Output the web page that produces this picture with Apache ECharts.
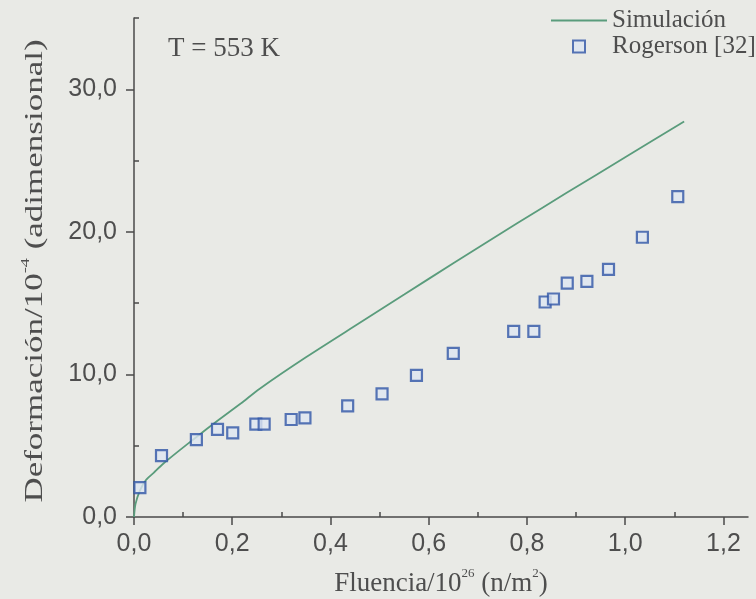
<!DOCTYPE html>
<html>
<head>
<meta charset="utf-8">
<script src="https://cdn.jsdelivr.net/npm/echarts@6/dist/echarts.min.js"></script>
<style>
  html, body { margin: 0; padding: 0; background: #e9eae6; }
  #chart { width: 756px; height: 599px; }
</style>
</head>
<body>
<div id="chart"></div>
<script>
// Experimental strain (Rogerson [32]) versus fluence
const rogersonX = [0.012, 0.056, 0.127, 0.170, 0.201, 0.248, 0.265, 0.320, 0.348, 0.435, 0.505, 0.575, 0.650, 0.773, 0.814, 0.837, 0.854, 0.882, 0.922, 0.966, 1.035, 1.107];
const rogersonY = [2.06, 4.31, 5.43, 6.14, 5.90, 6.51, 6.51, 6.84, 6.95, 7.80, 8.64, 9.94, 11.47, 13.02, 13.02, 15.08, 15.29, 16.41, 16.53, 17.37, 19.62, 22.47];

// Simulated strain curve
const simX = [0, 0.003, 0.012, 0.024, 0.04, 0.06, 0.09, 0.126, 0.17, 0.218, 0.256, 0.35, 0.459, 0.55, 0.65, 0.78, 0.88, 1.0, 1.12];
const simY = [0, 0.9, 1.85, 2.58, 3.1, 3.75, 4.6, 5.58, 6.75, 7.98, 9.0, 11.2, 13.6, 15.6, 17.8, 20.6, 22.72, 25.23, 27.74];

// Axis ticks and labels
const xMajor = [0, 0.2, 0.4, 0.6, 0.8, 1.0, 1.2];
const xMinor = [0.1, 0.3, 0.5, 0.7, 0.9, 1.1];
const yMajor = [0, 10, 20, 30];
const yMinor = [5, 15, 25, 35];

const SERIF = '"Liberation Serif", "Times New Roman", serif';
const SANS = '"Liberation Sans", Arial, sans-serif';
const AXIS_COLOR = '#4a4a4a';
const TEXT_COLOR = '#4e4e4e';

const fmt = v => v.toFixed(1).replace('.', ',');
const pairs = (xs, ys) => xs.map((x, i) => [x, ys[i]]);

const chart = echarts.init(document.getElementById('chart'));

const nameRich = (size) => ({
  a: { fontFamily: SERIF, fontSize: size, lineHeight: size + 6, fill: TEXT_COLOR, color: TEXT_COLOR },
  s: { fontFamily: SERIF, fontSize: 13, lineHeight: 13, fill: TEXT_COLOR, color: TEXT_COLOR, verticalAlign: 'top' }
});

const baseX = {
  type: 'value', min: 0, max: 1.25,
  axisLine: { show: true, onZero: false, lineStyle: { color: AXIS_COLOR, width: 1.5 } },
  splitLine: { show: false }
};
const baseY = {
  type: 'value', min: 0, max: 35,
  axisLine: { show: true, onZero: false, lineStyle: { color: AXIS_COLOR, width: 1.5 } },
  splitLine: { show: false }
};

chart.setOption({
  backgroundColor: '#e9eae6',
  animation: false,
  title: {
    text: 'T = 553 K',
    left: 163, top: 30,
    textStyle: { fontFamily: SERIF, fontSize: 27, fontWeight: 'normal', color: TEXT_COLOR }
  },
  legend: {
    orient: 'vertical',
    left: 545, top: 3,
    itemWidth: 56, itemHeight: 12, itemGap: 1,
    textStyle: { fontFamily: SERIF, fontSize: 25, color: TEXT_COLOR },
    data: [
      { name: 'Simulación', itemStyle: { opacity: 0 } },
      { name: 'Rogerson [32]', icon: 'path://M0,0L10,0L10,10L0,10Z' }
    ]
  },
  // Vertical axis title, drawn with a wide letter run
  graphic: [{
    type: 'text',
    x: 35, y: 271,
    rotation: Math.PI / 2,
    scaleX: 1.4, scaleY: 1,
    style: {
      text: '{a|Deformación/10}{s|-4}{a| (adimensional)}',
      rich: nameRich(25),
      align: 'center', verticalAlign: 'middle',
      fill: TEXT_COLOR
    }
  }],
  grid: { left: 134, right: 8, top: 18, bottom: 82, containLabel: false, outerBoundsMode: 'none' },
  xAxis: [
    Object.assign({}, baseX, {
      name: '{a|Fluencia/10}{s|26}{a| (n/m}{s|2}{a|)}',
      nameLocation: 'middle', nameGap: 50,
      nameTextStyle: { rich: nameRich(27) },
      axisTick: { show: true, length: 8, customValues: xMajor, lineStyle: { color: AXIS_COLOR, width: 1.5 } },
      axisLabel: {
        customValues: xMajor, margin: 15, formatter: fmt,
        fontFamily: SANS, fontSize: 25, color: TEXT_COLOR
      }
    }),
    Object.assign({}, baseX, {
      axisLine: { show: false },
      axisTick: { show: true, length: 5, customValues: xMinor, lineStyle: { color: AXIS_COLOR, width: 1.5 } },
      axisLabel: { show: false }
    })
  ],
  yAxis: [
    Object.assign({}, baseY, {
      axisTick: { show: true, length: 8, customValues: yMajor, lineStyle: { color: AXIS_COLOR, width: 1.5 } },
      axisLabel: {
        customValues: yMajor, margin: 17, formatter: fmt,
        fontFamily: SANS, fontSize: 25, color: TEXT_COLOR
      }
    }),
    Object.assign({}, baseY, {
      axisLine: { show: false },
      axisTick: { show: true, length: 5, customValues: yMinor, lineStyle: { color: AXIS_COLOR, width: 1.5 } },
      axisLabel: { show: false }
    })
  ],
  series: [
    {
      name: 'Simulación',
      type: 'line',
      xAxisIndex: 0, yAxisIndex: 0,
      data: pairs(simX, simY),
      smooth: 0.25,
      showSymbol: false, symbol: 'none',
      lineStyle: { color: '#5a9c7c', width: 1.8 },
      itemStyle: { color: '#5a9c7c' },
      z: 2
    },
    {
      name: 'Rogerson [32]',
      type: 'scatter',
      xAxisIndex: 0, yAxisIndex: 0,
      data: pairs(rogersonX, rogersonY),
      symbol: 'rect', symbolSize: 11,
      itemStyle: { color: '#dde6f1', borderColor: '#2f55a6', borderWidth: 2.2 },
      z: 3
    }
  ]
});
</script>
</body>
</html>
